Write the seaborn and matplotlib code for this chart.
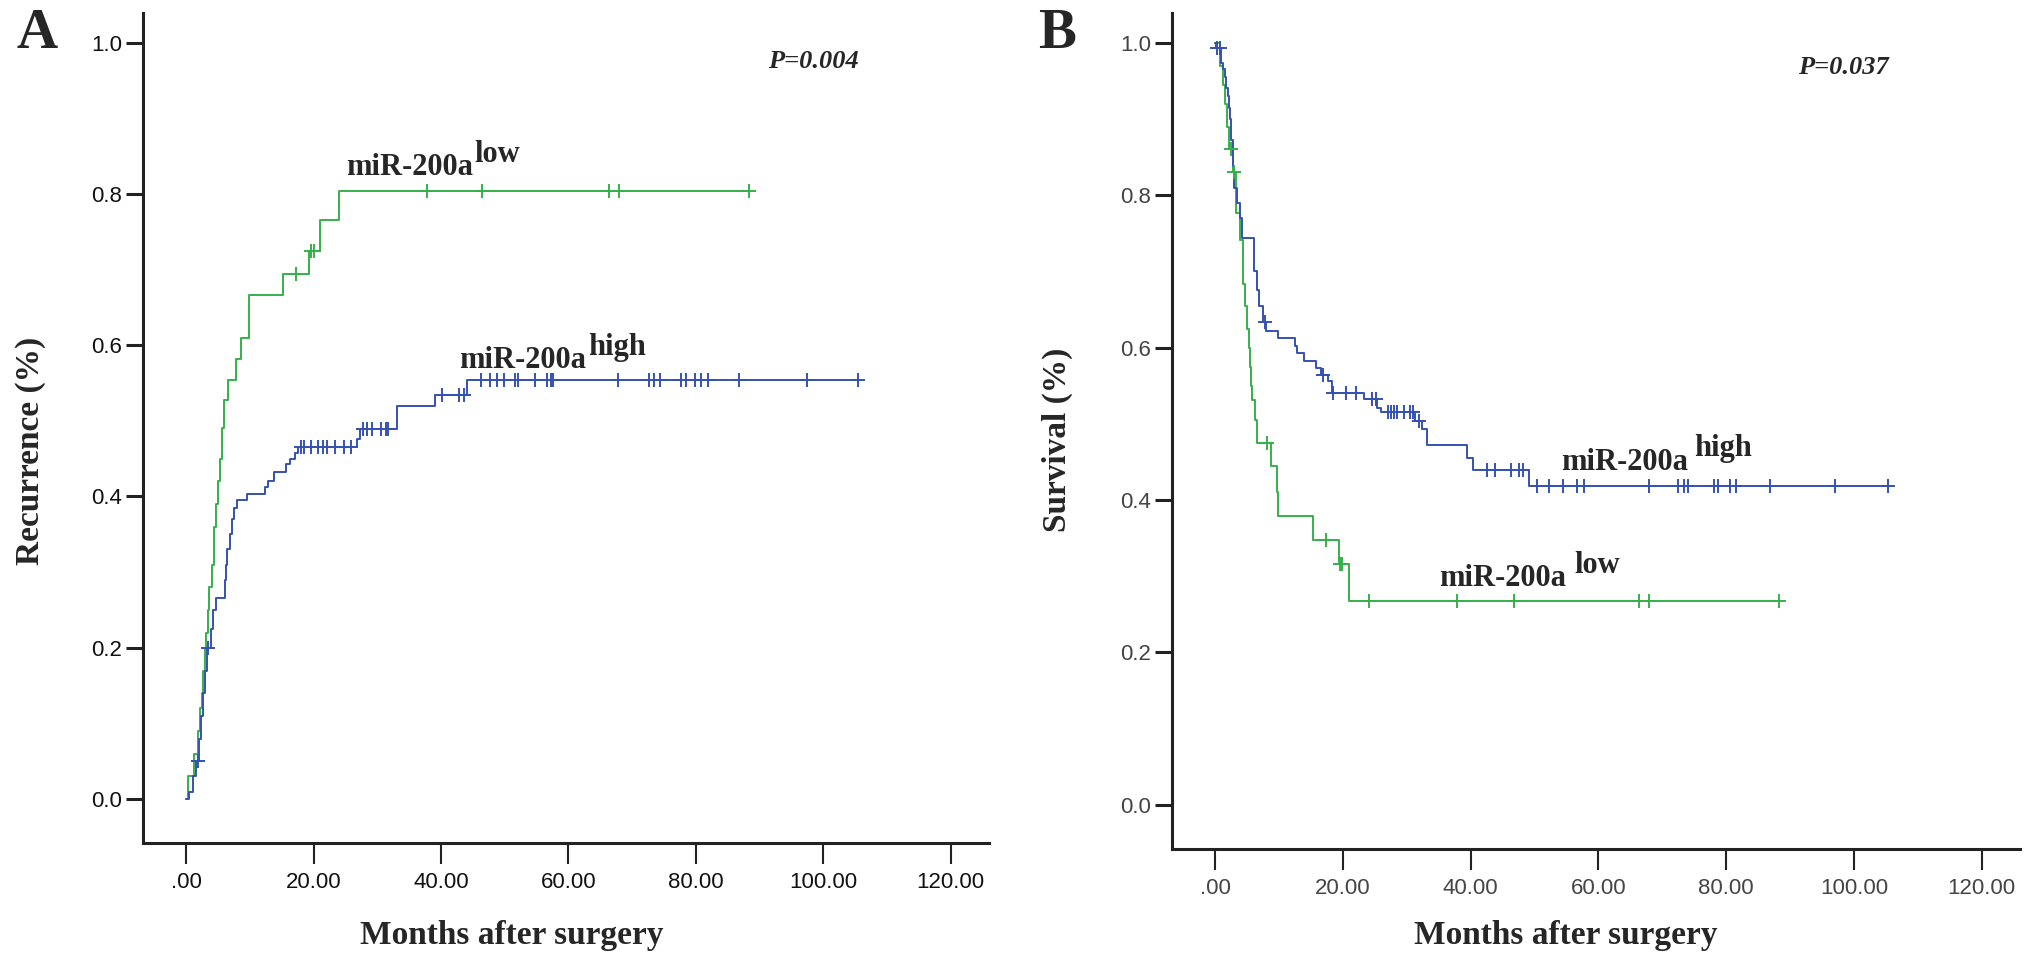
import numpy as np
import pandas as pd
import matplotlib
matplotlib.use("Agg")
import matplotlib.pyplot as plt
import seaborn as sns

# Kaplan-Meier curves: step times (months) and level after each step
# Panel A - recurrence
rec_low_t = [0, 0.3, 1.2, 1.8, 2.1, 2.4, 2.6, 2.9, 3.1, 3.4, 3.6, 4.0, 4.4, 4.7, 5.0, 5.3,
             5.6, 5.9, 6.5, 7.85, 8.6, 9.8, 15.2, 19.2, 21.0, 24.0]
rec_low_v = [0, 0.03, 0.06, 0.09, 0.12, 0.14, 0.17, 0.2, 0.22, 0.25, 0.28, 0.31, 0.36, 0.39,
             0.42, 0.45, 0.49, 0.527, 0.554, 0.582, 0.61, 0.666, 0.694, 0.724, 0.765, 0.804]
rec_low_cens = [17.3, 19.6, 20.0, 37.8, 46.5, 66.3, 67.9, 88.4]

rec_high_t = [0, 0.5, 1.0, 1.5, 2.0, 2.3, 2.6, 2.9, 3.2, 3.8, 4.2, 4.6, 6.0, 6.2, 6.4, 6.9,
              7.2, 7.5, 7.9, 9.6, 12.4, 12.8, 13.8, 15.6, 16.3, 17.0, 17.6, 26.8, 27.3, 33.1,
              39.1, 44.1]
rec_high_v = [0, 0.01, 0.03, 0.05, 0.08, 0.11, 0.14, 0.17, 0.2, 0.225, 0.25, 0.266, 0.29,
              0.31, 0.33, 0.35, 0.37, 0.385, 0.395, 0.403, 0.413, 0.42, 0.433, 0.443, 0.45,
              0.458, 0.465, 0.476, 0.489, 0.519, 0.534, 0.554]
rec_high_cens = [1.8, 3.4, 18.0, 18.5, 19.5, 20.6, 21.5, 22.1, 23.4, 24.7, 25.8, 27.7, 28.3,
                 29.2, 30.5, 31.3, 31.6, 40.2, 42.8, 43.6, 46.3, 47.6, 48.8, 49.9, 51.6, 52.1,
                 54.7, 56.6, 57.2, 57.5, 67.7, 72.6, 73.5, 74.3, 77.7, 78.5, 79.9, 80.8, 81.9,
                 86.8, 97.5, 105.5]

# Panel B - survival
surv_low_t = [0, 0.8, 1.2, 1.5, 1.9, 2.2, 2.8, 3.3, 3.9, 4.3, 4.6, 5.0, 5.2, 5.4, 5.6, 5.8,
              6.2, 6.5, 8.75, 9.6, 9.8, 15.3, 19.3, 21.0]
surv_low_v = [1.0, 0.97, 0.945, 0.92, 0.89, 0.86, 0.83, 0.776, 0.741, 0.683, 0.655, 0.624,
              0.6, 0.575, 0.55, 0.531, 0.505, 0.475, 0.444, 0.41, 0.379, 0.348, 0.316, 0.267]
surv_low_cens = [2.4, 3.0, 8.1, 17.3, 19.5, 19.9, 24.0, 37.9, 46.8, 66.3, 68.0, 88.3]

surv_high_t = [0, 0.1, 0.94, 1.2, 1.46, 1.7, 1.98, 2.1, 2.24, 2.5, 2.76, 3.0, 3.44, 3.8, 4.2,
               6.1, 6.5, 6.9, 7.4, 7.97, 9.8, 12.5, 12.8, 13.9, 15.8, 16.6, 17.7, 18.2, 23.3,
               25.3, 26.0, 31.3, 32.4, 33.2, 39.4, 40.4, 49.2]
surv_high_v = [1.0, 0.993, 0.973, 0.965, 0.955, 0.94, 0.93, 0.915, 0.9, 0.872, 0.838, 0.81,
               0.79, 0.77, 0.744, 0.70, 0.676, 0.654, 0.633, 0.622, 0.613, 0.602, 0.593, 0.583,
               0.573, 0.564, 0.556, 0.541, 0.532, 0.521, 0.515, 0.504, 0.493, 0.472, 0.455,
               0.44, 0.418]
surv_high_cens = [0.2, 0.7, 7.8, 16.8, 18.5, 20.5, 22.0, 24.5, 25.1, 27.0, 27.5, 28.0, 28.5,
                  29.5, 30.5, 31.0, 31.9, 42.6, 43.8, 46.3, 47.6, 48.2, 50.4, 52.3, 54.5, 56.7,
                  57.7, 67.9, 72.4, 73.4, 74.0, 78.1, 78.7, 80.6, 81.6, 86.9, 97.0, 105.3]

x_ticks = [0, 20, 40, 60, 80, 100, 120]
x_tick_labels = [".00", "20.00", "40.00", "60.00", "80.00", "100.00", "120.00"]
y_ticks = [0.0, 0.2, 0.4, 0.6, 0.8, 1.0]
y_tick_labels = ["0.0", "0.2", "0.4", "0.6", "0.8", "1.0"]

GREEN = "#35b04a"
BLUE = "#3552b0"
SERIF = ["Liberation Serif", "DejaVu Serif"]
SANS = ["Liberation Sans", "DejaVu Sans"]


def step_frame(t, v, end):
    # extend the last level to the last censored case
    return pd.DataFrame({"month": list(t) + [end], "value": list(v) + [v[-1]]})


def censor_levels(t, v, cens):
    idx = np.searchsorted(np.array(t), np.array(cens), side="right") - 1
    return np.array(v)[idx]


def km_curve(ax, t, v, cens, color):
    df = step_frame(t, v, max(cens))
    sns.lineplot(data=df, x="month", y="value", drawstyle="steps-post", color=color,
                 lw=1.4, estimator=None, sort=False, ax=ax)
    sns.scatterplot(x=cens, y=censor_levels(t, v, cens), marker="+", s=110, color=color,
                    linewidth=1.4, ax=ax, zorder=3)


def label(ax, x, y, base, sup, gap=1):
    t1 = ax.text(x, y, base, fontsize=22, fontweight="bold", family=SERIF, va="baseline")
    ax.annotate(sup, xy=(1, 0), xycoords=t1, xytext=(gap, 9.5), textcoords="offset points",
                fontsize=22, fontweight="bold", family=SERIF, va="bottom", ha="left")


sns.set_style("ticks")
plt.rcParams["font.family"] = SANS

fig = plt.figure(figsize=(20.31, 9.65), dpi=100)
ax_a = fig.add_axes([0.0704, 0.1264, 0.4165, 0.8601])
ax_b = fig.add_axes([0.5770, 0.1202, 0.4175, 0.8663])

# Panel A
km_curve(ax_a, rec_low_t, rec_low_v, rec_low_cens, GREEN)
km_curve(ax_a, rec_high_t, rec_high_v, rec_high_cens, BLUE)
label(ax_a, 25.1, 0.825, "miR-200a", "low")
label(ax_a, 42.9, 0.570, "miR-200a", "high")
ax_a.text(98.4, 0.975, "P=0.004", fontsize=19, fontweight="bold", style="italic",
          family=SERIF, ha="center", va="center")
ax_a.set_ylabel("Recurrence (%)")

# Panel B
km_curve(ax_b, surv_low_t, surv_low_v, surv_low_cens, GREEN)
km_curve(ax_b, surv_high_t, surv_high_v, surv_high_cens, BLUE)
label(ax_b, 54.1, 0.44, "miR-200a", "high", gap=5)
label(ax_b, 35.0, 0.287, "miR-200a", "low", gap=6)
ax_b.text(98.3, 0.968, "P=0.037", fontsize=19, fontweight="bold", style="italic",
          family=SERIF, ha="center", va="center")
ax_b.set_ylabel("Survival (%)")

for ax, tick_col in [(ax_a, "#111111"), (ax_b, "#444444")]:
    ax.set_xlim(-6.8, 126)
    ax.set_ylim(-0.058, 1.039)
    ax.set_xticks(x_ticks)
    ax.set_xticklabels(x_tick_labels)
    ax.set_yticks(y_ticks)
    ax.set_yticklabels(y_tick_labels)
    ax.tick_params(axis="y", length=12, width=2.2, labelsize=16, pad=3, colors="#222222",
                   labelcolor=tick_col)
    ax.tick_params(axis="x", length=15, width=1.5, labelsize=16, pad=6, colors="#222222",
                   labelcolor=tick_col)
    ax.set_xlabel("Months after surgery", fontsize=24, fontweight="bold", family=SERIF)
    ax.yaxis.label.set(fontsize=24, fontweight="bold", family=SERIF)
    for side in ["left", "bottom"]:
        ax.spines[side].set_linewidth(2.2)
        ax.spines[side].set_color("#222222")
    sns.despine(ax=ax)
    ax.set_facecolor("white")

ax_a.xaxis.set_label_coords(0.436, -0.093)
ax_b.xaxis.set_label_coords(0.465, -0.085)
ax_a.yaxis.set_label_coords(-0.115, 0.472)
ax_b.yaxis.set_label_coords(-0.117, 0.49)

fig.text(0.0182, 0.9648, "A", fontsize=41, fontweight="bold", family=SERIF,
         ha="center", va="center")
fig.text(0.5204, 0.9648, "B", fontsize=41, fontweight="bold", family=SERIF,
         ha="center", va="center")

fig.savefig("out.png", dpi=100, facecolor="white")
